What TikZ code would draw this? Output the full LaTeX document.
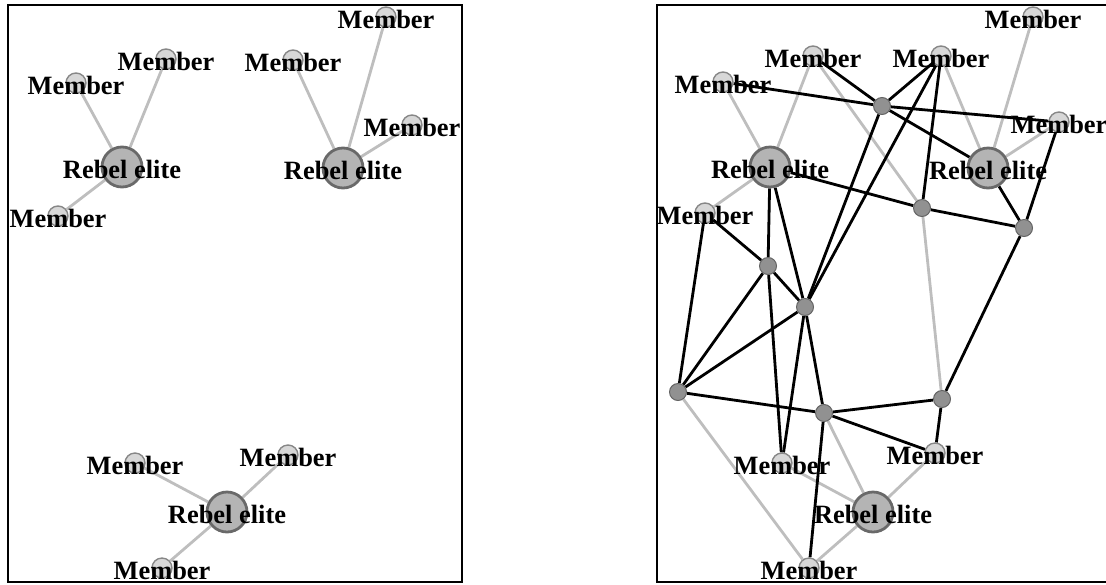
\documentclass[tikz,border=0pt]{standalone}
\usepackage{fontspec}
\setmainfont{Liberation Serif}
\usetikzlibrary{backgrounds}
\definecolor{elitefill}{RGB}{180,180,180}
\definecolor{eliteline}{RGB}{105,105,105}
\definecolor{memberfill}{RGB}{215,215,215}
\definecolor{memberline}{RGB}{135,135,135}
\definecolor{hubfill}{RGB}{145,145,145}
\definecolor{hubline}{RGB}{100,100,100}
\definecolor{tiegray}{RGB}{190,190,190}
\tikzstyle{elite} = [circle, inner sep=0pt,
minimum size=20pt,
draw=eliteline, line width=1.4pt,
fill=elitefill]
\tikzstyle{member} = [circle, inner sep=0pt,
minimum size=10pt,
draw=memberline, line width=0.7pt,
fill=memberfill]
\tikzstyle{hub} = [circle, inner sep=0pt,
minimum size=8.5pt,
draw=hubline, line width=0.5pt,
fill=hubfill]
\tikzstyle{tag} = [inner sep=0pt, yshift=-1pt, font=\fontsize{13.2}{15}\selectfont\bfseries]
\tikzstyle{tie} = [line width=1.4pt, draw=tiegray]
\tikzstyle{link} = [line width=1.4pt, draw=black]
\tikzstyle{frame} = [line width=1pt, draw=black]

\begin{document}
\begin{tikzpicture}[x=0.5pt, y=-0.5pt]
        \useasboundingbox (0,0) rectangle (1106,584);
        % panels
        \draw [frame] (8,5) rectangle (462,582);
        \draw [frame] (1106,5) -- (657,5) -- (657,582) -- (1106,582);
        % left panel
        \node (le1) [elite, label={[tag]center:Rebel elite}] at (122,167) {};
        \node (le2) [elite, label={[tag]center:Rebel elite}] at (343,168) {};
        \node (le3) [elite, label={[tag]center:Rebel elite}] at (227,512) {};
        \node (lm1) [member, label={[tag]center:Member}] at (76,83) {};
        \node (lm2) [member, label={[tag]center:Member}] at (166,59) {};
        \node (lm3) [member, label={[tag]center:Member}] at (58,216) {};
        \node (lm4) [member, label={[tag]center:Member}] at (293,60) {};
        \node (lm5) [member, label={[tag]center:Member}] at (386,17) {};
        \node (lm6) [member, label={[tag]center:Member}] at (412,125) {};
        \node (lm7) [member, label={[tag]center:Member}] at (135,463) {};
        \node (lm8) [member, label={[tag]center:Member}] at (288,455) {};
        \node (lm9) [member, label={[tag]center:Member}] at (162,568) {};
        % right panel
        \node (re1) [elite, label={[tag]center:Rebel elite}] at (770,167) {};
        \node (re2) [elite, label={[tag]center:Rebel elite}] at (988,168) {};
        \node (re3) [elite, label={[tag]center:Rebel elite}] at (873,512) {};
        \node (rm1) [member, label={[tag]center:Member}] at (723,82) {};
        \node (rm2) [member, label={[tag]center:Member}] at (813,56) {};
        \node (rm3) [member, label={[tag]center:Member}] at (941,56) {};
        \node (rm4) [member, label={[tag]center:Member}] at (1033,17) {};
        \node (rm5) [member, label={[tag]center:Member}] at (1059,122) {};
        \node (rm6) [member, label={[tag]center:Member}] at (705,213) {};
        \node (rm7) [member, label={[tag]center:Member}] at (782,463) {};
        \node (rm8) [member, label={[tag]center:Member}] at (935,453) {};
        \node (rm9) [member, label={[tag]center:Member}] at (809,568) {};
        \node (h1) [hub] at (882,106) {};
        \node (h2) [hub] at (922,208) {};
        \node (h3) [hub] at (1024,228) {};
        \node (h4) [hub] at (768,266) {};
        \node (h5) [hub] at (805,307) {};
        \node (h6) [hub] at (678,392) {};
        \node (h7) [hub] at (824,413) {};
        \node (h8) [hub] at (942,399) {};
        \begin{scope}[on background layer]
        \draw [tie] (le1) -- (lm1);
        \draw [tie] (le1) -- (lm2);
        \draw [tie] (le1) -- (lm3);
        \draw [tie] (le2) -- (lm4);
        \draw [tie] (le2) -- (lm5);
        \draw [tie] (le2) -- (lm6);
        \draw [tie] (le3) -- (lm7);
        \draw [tie] (le3) -- (lm8);
        \draw [tie] (le3) -- (lm9);
        \draw [tie] (re1) -- (rm1);
        \draw [tie] (re1) -- (rm2);
        \draw [tie] (re1) -- (rm6);
        \draw [tie] (re2) -- (rm3);
        \draw [tie] (re2) -- (rm4);
        \draw [tie] (re2) -- (rm5);
        \draw [tie] (re3) -- (rm7);
        \draw [tie] (re3) -- (rm8);
        \draw [tie] (re3) -- (rm9);
        \draw [tie] (rm2) -- (h2);
        \draw [tie] (h2) -- (h8);
        \draw [tie] (h6) -- (rm9);
        \draw [tie] (h7) -- (re3);
        \draw [link] (rm1) -- (h1);
        \draw [link] (h1) -- (rm5);
        \draw [link] (rm2) -- (h1);
        \draw [link] (h1) -- (rm3);
        \draw [link] (h1) -- (re2);
        \draw [link] (h1) -- (h5);
        \draw [link] (rm3) -- (h5);
        \draw [link] (rm3) -- (h2);
        \draw [link] (re1) -- (h2);
        \draw [link] (h2) -- (h3);
        \draw [link] (re2) -- (h3);
        \draw [link] (rm5) -- (h3);
        \draw [link] (h3) -- (h8);
        \draw [link] (h8) -- (h7);
        \draw [link] (h8) -- (rm8);
        \draw [link] (re1) -- (h4);
        \draw [link] (re1) -- (h5);
        \draw [link] (rm6) -- (h4);
        \draw [link] (rm6) -- (h6);
        \draw [link] (h4) -- (h5);
        \draw [link] (h4) -- (h6);
        \draw [link] (h5) -- (h6);
        \draw [link] (h4) -- (rm7);
        \draw [link] (h5) -- (rm7);
        \draw [link] (h5) -- (h7);
        \draw [link] (h6) -- (h7);
        \draw [link] (h7) -- (rm8);
        \draw [link] (h7) -- (rm9);
        \end{scope}
    \end{tikzpicture}
\end{document}
